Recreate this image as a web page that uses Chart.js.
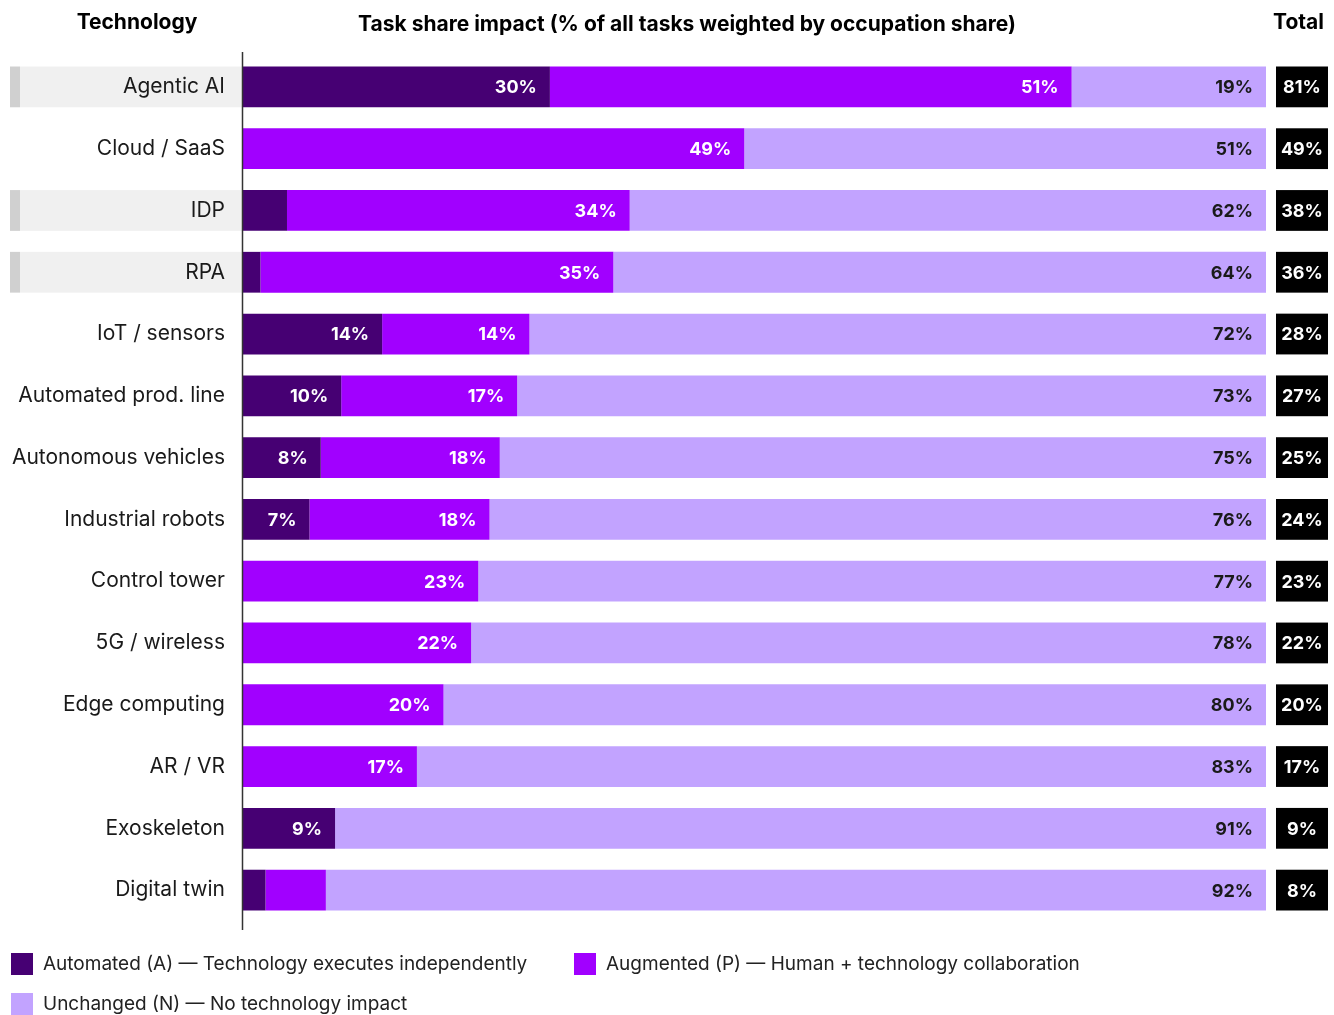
<!DOCTYPE html>
<html>
<head>
<meta charset="utf-8">
<script src="https://cdn.jsdelivr.net/npm/chart.js@4.4.0/dist/chart.umd.min.js"></script>
<style>
  body { margin: 0; background: #fff; font-family: Inter, "Noto Sans", sans-serif; }
  #wrap { position: relative; width: 1334px; height: 1015px; overflow: hidden; }
  #chart { position: absolute; left: 0; top: 0; }
  .hdr { position: absolute; font-weight: 700; font-size: 21px; color: #000; line-height: 24px; white-space: nowrap; }
  .leg { position: absolute; font-size: 19px; color: #222; line-height: 22px; white-space: nowrap; }
  .leg span.box { position: absolute; left: 0; top: 0; width: 22px; height: 22px; }
  .leg span.txt { position: absolute; left: 32px; top: 0; }
</style>
</head>
<body>
<div id="wrap">
  <canvas id="chart" width="1334" height="1015"></canvas>
</div>
<script>
// Data
const technologies = ['Agentic AI', 'Cloud / SaaS', 'IDP', 'RPA', 'IoT / sensors', 'Automated prod. line',
  'Autonomous vehicles', 'Industrial robots', 'Control tower', '5G / wireless', 'Edge computing',
  'AR / VR', 'Exoskeleton', 'Digital twin'];
const automated = [30, 0, 4.3, 1.7, 13.6, 9.6, 7.6, 6.5, 0, 0, 0, 0, 9, 2.2];
const augmented = [51, 49, 33.5, 34.5, 14.4, 17.2, 17.5, 17.6, 23, 22.3, 19.6, 17, 0, 5.9];
const unchanged = [19, 51, 62.2, 63.8, 72, 73.2, 74.9, 75.9, 77, 77.7, 80.4, 83, 91, 91.9];
const highlighted = ['Agentic AI', 'IDP', 'RPA'];
const seriesNames = ['Automated (A) — Technology executes independently',
  'Augmented (P) — Human + technology collaboration',
  'Unchanged (N) — No technology impact'];
const seriesColors = ['#460073', '#a100ff', '#c2a3ff'];

const wrap = document.getElementById('wrap');

// headers
function addHeader(text, css) {
  const d = document.createElement('div');
  d.className = 'hdr';
  d.textContent = text;
  Object.assign(d.style, css);
  wrap.appendChild(d);
}
addHeader('Technology', { left: '137px', top: '10px', transform: 'translateX(-50%)' });
addHeader('Task share impact (% of all tasks weighted by occupation share)', { left: '687px', top: '12px', transform: 'translateX(-50%)' });
addHeader('Total', { right: '10px', top: '10px' });

// legend
const legendPos = [[11, 953], [574, 953], [11, 993]];
seriesNames.forEach((name, i) => {
  const d = document.createElement('div');
  d.className = 'leg';
  d.style.left = legendPos[i][0] + 'px';
  d.style.top = legendPos[i][1] + 'px';
  d.innerHTML = '<span class="box" style="background:' + seriesColors[i] + '"></span><span class="txt"></span>';
  d.querySelector('.txt').textContent = name;
  wrap.appendChild(d);
});

const fmt = v => Math.round(v) + '%';

// gray background behind highlighted row labels
const rowHighlight = {
  id: 'rowHighlight',
  beforeDraw(chart) {
    const { ctx, chartArea } = chart;
    const meta = chart.getDatasetMeta(0);
    ctx.save();
    technologies.forEach((t, i) => {
      if (!highlighted.includes(t)) return;
      const el = meta.data[i];
      const h = el.height;
      ctx.fillStyle = '#f0f0f0';
      ctx.fillRect(20, el.y - h / 2, chartArea.left - 20, h);
      ctx.fillStyle = '#d0d0d0';
      ctx.fillRect(10, el.y - h / 2, 10, h);
    });
    ctx.restore();
  }
};

// segment labels, total boxes and axis line
const barExtras = {
  id: 'barExtras',
  afterDatasetsDraw(chart) {
    const { ctx, chartArea } = chart;
    ctx.save();
    ctx.font = '700 18px Inter, "Noto Sans", sans-serif';
    ctx.textBaseline = 'middle';
    ctx.textAlign = 'right';
    chart.data.datasets.forEach((ds, di) => {
      const meta = chart.getDatasetMeta(di);
      meta.data.forEach((el, i) => {
        const v = ds.data[i];
        if (v < 6) return;
        ctx.fillStyle = di === 2 ? '#1a1a1a' : '#ffffff';
        ctx.fillText(fmt(v), el.x - 13, el.y + 1);
      });
    });
    // totals
    const meta0 = chart.getDatasetMeta(0);
    ctx.textAlign = 'center';
    meta0.data.forEach((el, i) => {
      const h = el.height;
      ctx.fillStyle = '#000';
      ctx.fillRect(chartArea.right + 10, el.y - h / 2, 52, h);
      ctx.fillStyle = '#fff';
      ctx.fillText(fmt(automated[i] + augmented[i]), chartArea.right + 36, el.y + 1);
    });
    // axis line
    ctx.strokeStyle = '#333';
    ctx.lineWidth = 1.5;
    ctx.beginPath();
    ctx.moveTo(chartArea.left - 0.5, 52);
    ctx.lineTo(chartArea.left - 0.5, 930);
    ctx.stroke();
    ctx.restore();
  }
};

new Chart(document.getElementById('chart').getContext('2d'), {
  type: 'bar',
  data: {
    labels: technologies,
    datasets: [
      { label: seriesNames[0], data: automated, backgroundColor: seriesColors[0] },
      { label: seriesNames[1], data: augmented, backgroundColor: seriesColors[1] },
      { label: seriesNames[2], data: unchanged, backgroundColor: seriesColors[2] }
    ]
  },
  options: {
    indexAxis: 'y',
    responsive: false,
    animation: false,
    devicePixelRatio: 1,
    barPercentage: 0.66,
    categoryPercentage: 1,
    layout: { padding: { left: 0, right: 68, top: 56, bottom: 94 } },
    plugins: { legend: { display: false }, tooltip: { enabled: false } },
    scales: {
      x: { stacked: true, min: 0, max: 100, display: false },
      y: {
        stacked: true,
        grid: { display: false, drawTicks: false },
        border: { display: false },
        afterFit(scale) { scale.width = 243; },
        ticks: {
          padding: 18,
          color: '#1a1a1a',
          font: { family: 'Inter, "Noto Sans", sans-serif', size: 21, lineHeight: 1.0 }
        }
      }
    }
  },
  plugins: [rowHighlight, barExtras]
});
</script>
</body>
</html>
